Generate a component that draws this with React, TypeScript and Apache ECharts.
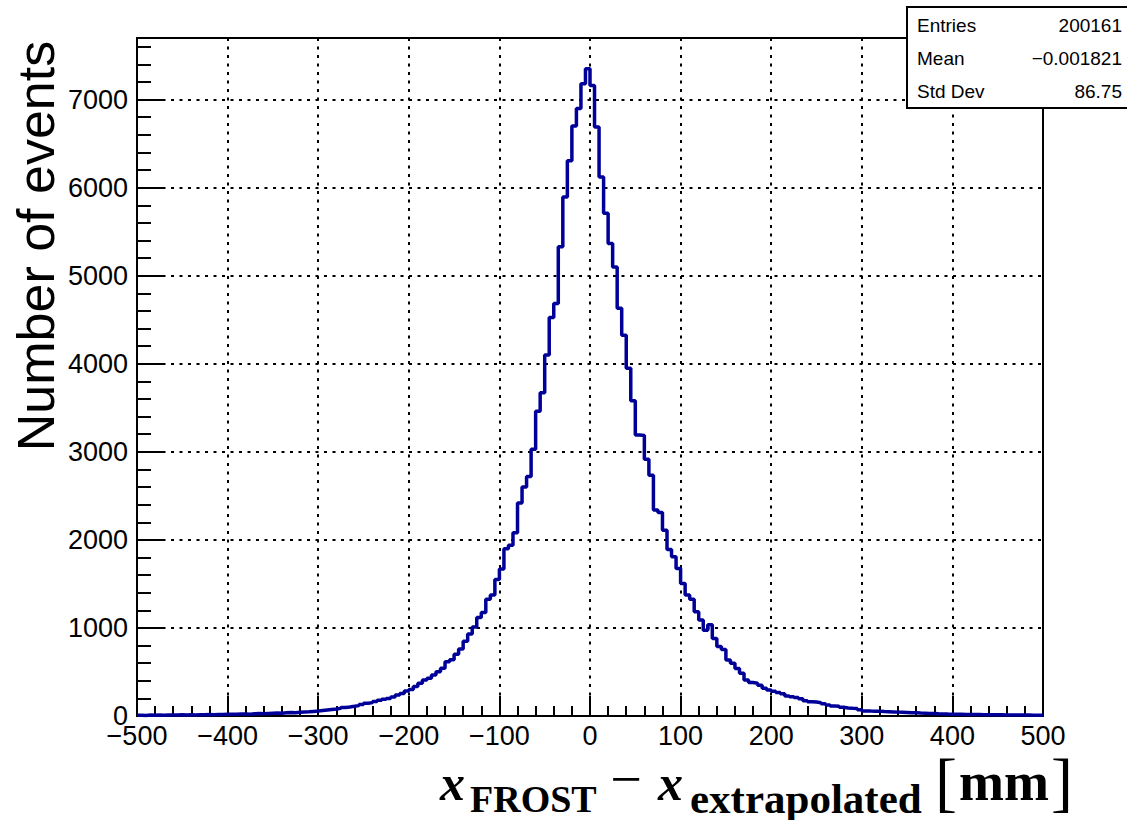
import React, { useEffect, useRef } from "react";
import * as echarts from "echarts";

// Histogram binning (200 bins of 5 mm from -500 to 500 mm)
const xMin = -500;
const xMax = 500;
const binWidth = 5;
const yMax = 7700;

// Bin contents, -500 mm .. 0 mm
const countsNegative = [
  9, 7, 10, 8, 11, 9, 12, 10, 11, 13,
  12, 14, 11, 15, 13, 16, 15, 18, 17, 19,
  20, 19, 22, 24, 21, 25, 27, 26, 29, 31,
  33, 32, 36, 39, 37, 42, 45, 48, 52, 56,
  62, 68, 74, 80, 88, 97, 103, 110, 118, 130,
  145, 152, 165, 180, 190, 200, 215, 238, 255, 285,
  300, 335, 372, 410, 430, 465, 503, 541, 615, 640,
  700, 760, 850, 930, 1010, 1120, 1175, 1325, 1375, 1550,
  1670, 1900, 1940, 2080, 2420, 2600, 2720, 3030, 3460, 3670,
  4100, 4525, 4685, 5330, 5895, 6305, 6700, 6900, 7180, 7350,
];

// Bin contents, 0 mm .. 500 mm
const countsPositive = [
  7160, 6690, 6120, 5710, 5365, 5100, 4630, 4325, 3950, 3580,
  3190, 3185, 2915, 2735, 2340, 2310, 2110, 1890, 1810, 1675,
  1505, 1375, 1325, 1185, 1090, 975, 1035, 880, 790, 755,
  635, 600, 540, 485, 410, 380, 372, 350, 315, 295,
  280, 268, 252, 228, 219, 210, 196, 172, 163, 158,
  150, 140, 126, 113, 110, 100, 92, 88, 86, 72,
  58, 56, 55, 53, 50, 48, 46, 44, 42, 40,
  38, 36, 33, 31, 29, 27, 25, 24, 22, 21,
  20, 19, 18, 18, 17, 16, 15, 15, 14, 14,
  13, 12, 12, 11, 11, 10, 10, 9, 9, 8,
];

const statsLabels = ["Entries", "Mean", "Std Dev"];
const statsValues = ["200161", "\u22120.001821", "86.75"];
const yTitle = "Number of events";

const SANS = '"Liberation Sans", Arial, Helvetica, sans-serif';
const SERIF = '"Liberation Serif", "Times New Roman", serif';

export default function App() {
  const ref = useRef<HTMLDivElement>(null);

  useEffect(() => {
    const chart = echarts.init(ref.current!, null, { renderer: "svg" });
    const counts = countsNegative.concat(countsPositive);
    const histData: number[][] = counts.map((c, i) => [xMin + i * binWidth, c]);
    histData.push([xMax, counts[counts.length - 1]]);

    const fmt = (v: number) => (v < 0 ? "\u2212" + Math.abs(v) : String(v));
    const dotted = { color: "#000", width: 2, type: [3, 5.5] as any };

    const txt = (
      text: string,
      x: number,
      y: number,
      font: string,
      align: string,
      vAlign: string = "middle",
      rotation = 0
    ) => ({
      type: "text",
      x,
      y,
      rotation,
      z: 110,
      style: {
        text,
        font,
        fill: "#000",
        align,
        verticalAlign: vAlign,
        textAlign: align,
        textVerticalAlign: vAlign,
      },
    });

    const statRowsY = [25, 58.3, 91.7];
    const statsGraphics: any[] = [
      {
        type: "rect",
        z: 100,
        shape: { x: 907, y: 7, width: 240, height: 101 },
        style: { fill: "#fff", stroke: "#000", lineWidth: 2 },
      },
    ];
    statsLabels.forEach((l, i) => {
      statsGraphics.push(txt(l, 917, statRowsY[i], `19px ${SANS}`, "left"));
      statsGraphics.push(txt(statsValues[i], 1122, statRowsY[i], `19px ${SANS}`, "right"));
    });

    const option: any = {
      animation: false,
      backgroundColor: "#fff",
      grid: {
        left: 137,
        right: 84,
        top: 38,
        bottom: 104,
        show: true,
        borderColor: "#000",
        borderWidth: 2,
        backgroundColor: "transparent",
      },
      xAxis: {
        type: "value",
        min: xMin,
        max: xMax,
        interval: 100,
        axisLine: { show: true, onZero: false, lineStyle: { color: "#000", width: 2 } },
        axisTick: { show: true, inside: true, length: 20, lineStyle: { color: "#000", width: 2 } },
        minorTick: { show: true, splitNumber: 5, length: 10, lineStyle: { color: "#000", width: 2 } },
        axisLabel: {
          margin: 6,
          color: "#000",
          fontSize: 27,
          fontFamily: SANS,
          formatter: fmt,
        },
        splitLine: { show: true, lineStyle: dotted },
      },
      yAxis: [
        {
          type: "value",
          position: "left",
          min: 0,
          max: yMax,
          interval: 1000,
          axisLine: { show: true, onZero: false, lineStyle: { color: "#000", width: 2 } },
          axisTick: { show: true, inside: true, length: 26, lineStyle: { color: "#000", width: 2 } },
          axisLabel: {
            margin: 9,
            color: "#000",
            fontSize: 27,
            fontFamily: SANS,
            showMaxLabel: false,
            formatter: (v: number) => (v % 1000 === 0 ? String(v) : ""),
          },
          splitLine: { show: true, lineStyle: dotted },
        },
        {
          type: "value",
          position: "left",
          offset: 0,
          min: 0,
          max: yMax,
          interval: 200,
          axisLine: { show: false, onZero: false },
          axisTick: { show: true, inside: true, length: 14, lineStyle: { color: "#000", width: 2 } },
          axisLabel: { show: false },
          splitLine: { show: false },
        },
      ],
      series: [
        {
          type: "line",
          step: "end",
          yAxisIndex: 0,
          data: histData,
          showSymbol: false,
          symbol: "none",
          clip: true,
          z: 5,
          lineStyle: { color: "#000099", width: 3.5 },
        },
      ],
      graphic: [
        txt(yTitle, 36, 246, `52px ${SANS}`, "center", "middle", Math.PI / 2),
        // x-axis title: x_FROST − x_extrapolated [mm]
        txt("x", 440, 783, `bold italic 50px ${SERIF}`, "left"),
        txt("FROST", 470, 799, `bold 38px ${SERIF}`, "left"),
        txt("\u2212", 626, 779, `56px ${SERIF}`, "center"),
        txt("x", 658, 783, `bold italic 50px ${SERIF}`, "left"),
        txt("extrapolated", 690, 798, `bold 43px ${SERIF}`, "left"),
        txt("[", 935, 781, `66px ${SERIF}`, "left"),
        txt("mm", 959, 782, `bold 54px ${SERIF}`, "left"),
        txt("]", 1073, 781, `66px ${SERIF}`, "right"),
        ...statsGraphics,
      ],
    };

    chart.setOption(option);
    return () => chart.dispose();
  }, []);

  return (
    <div
      ref={ref}
      style={{ position: "absolute", left: 0, top: 0, width: 1127, height: 820, background: "#fff" }}
    />
  );
}
